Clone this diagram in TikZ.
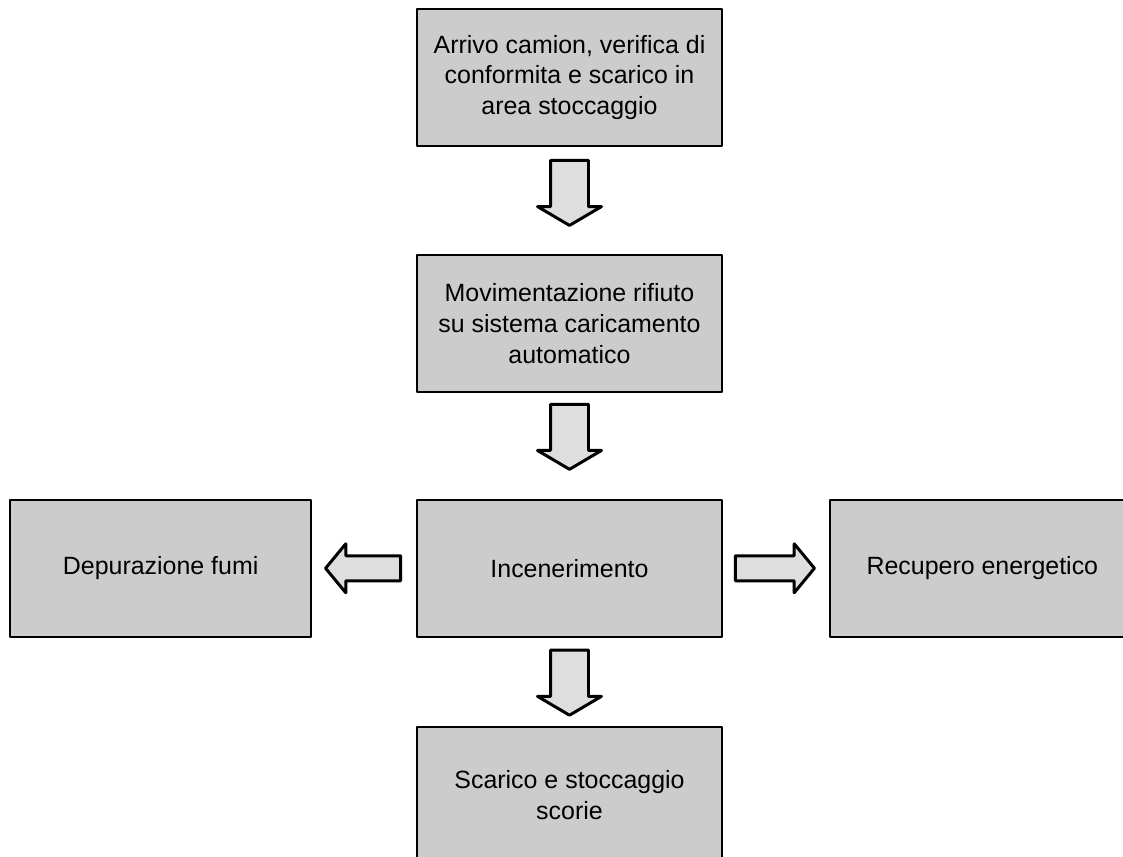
\documentclass[tikz,border=0pt]{standalone}
\usepackage{fontspec}
\setmainfont{Liberation Sans}
\usetikzlibrary{positioning,shapes.arrows}

\begin{document}
\begin{tikzpicture}[line cap=round, line join=round, x=0.02cm, y=-0.02cm, font=\fontsize{14.2}{17.5}\selectfont]
	\tikzset{fase/.style={draw, line width=1.1pt, fill=black!20, align=center, inner sep=0pt, minimum width=6.1cm, minimum height=2.74cm}}
	\tikzset{giu/.style={single arrow, draw, line width=1.7pt, fill=black!13, anchor=tail, rotate=-90, inner xsep=0pt, inner ysep=0.35cm, single arrow head extend=0.26cm, single arrow tip angle=119, minimum height=1.3cm}}
	\tikzset{lato/.style={single arrow, draw, line width=1.7pt, fill=black!13, anchor=tail, inner xsep=0pt, inner ysep=0.22cm, single arrow head extend=0.24cm, single arrow tip angle=101, minimum height=1.54cm}}
	\useasboundingbox (0,0) rectangle (1123,857);
	\clip (0,0) rectangle (1123,857);
	% fasi
	\node[fase] (arrivo) at (569.5,77.5) {Arrivo camion, verifica di\\conformita e scarico in\\area stoccaggio};
	\node[fase, below=2.14cm of arrivo] (movim) {Movimentazione rifiuto\\su sistema caricamento\\automatico};
	\node[fase, below=2.12cm of movim] (incen) {Incenerimento};
	\node[fase, minimum width=6.02cm, left=2.08cm of incen] (depur) {Depurazione fumi};
	\node[fase, right=2.12cm of incen] (recup) {Recupero energetico};
	\node[fase, below=1.76cm of incen] (scarico) {Scarico e stoccaggio\\scorie};
	% frecce
	\node[giu] (f1) at ([yshift=-0.24cm]arrivo.south) {};
	\node[giu] (f2) at ([yshift=-0.2cm]movim.south) {};
	\node[giu] (f3) at ([yshift=-0.22cm]incen.south) {};
	\node[lato, rotate=180, minimum height=1.5cm] (f4) at ([xshift=-0.28cm]incen.west) {};
	\node[lato, minimum height=1.58cm] (f5) at ([xshift=0.22cm]incen.east) {};
\end{tikzpicture}
\end{document}
